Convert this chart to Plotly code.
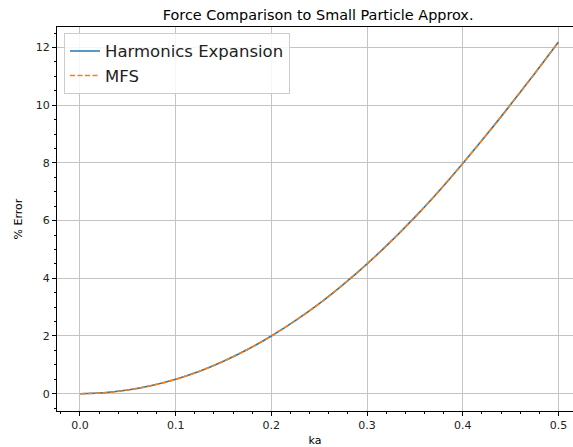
import plotly.graph_objects as go

ka = [0.0, 0.025, 0.05, 0.075, 0.1, 0.125, 0.15, 0.175, 0.2, 0.225, 0.25,
      0.275, 0.3, 0.325, 0.35, 0.375, 0.4, 0.425, 0.45, 0.475, 0.5]
harmonics_err = [0.0, 0.031, 0.125, 0.281, 0.50, 0.78, 1.125, 1.53, 2.00, 2.53, 3.12,
                 3.78, 4.50, 5.28, 6.12, 7.02, 7.98, 8.98, 10.02, 11.09, 12.19]
mfs_err = [0.0, 0.031, 0.125, 0.281, 0.50, 0.78, 1.125, 1.53, 2.00, 2.53, 3.12,
           3.78, 4.50, 5.28, 6.12, 7.02, 7.98, 8.98, 10.02, 11.09, 12.19]

fig = go.Figure()
fig.add_trace(go.Scatter(x=ka, y=harmonics_err, mode="lines", name="Harmonics Expansion",
                         line=dict(color="#1f77b4", width=1.6, shape="spline")))
fig.add_trace(go.Scatter(x=ka, y=mfs_err, mode="lines", name="MFS",
                         line=dict(color="#ff7f0e", width=1.6, dash="5px,2.5px", shape="spline")))

axis_common = dict(
    showgrid=True, gridcolor="#c4c4c4", gridwidth=1,
    showline=True, linecolor="black", linewidth=1,
    ticks="outside", ticklen=4, tickwidth=1, tickcolor="black",
    zeroline=False,
    tickfont=dict(family="DejaVu Sans", size=11, color="#222"),
)

fig.update_layout(
    width=573, height=447,
    margin=dict(l=57, r=0, t=27, b=36),
    paper_bgcolor="white", plot_bgcolor="white",
    title=dict(text="Force Comparison to Small Particle Approx.",
               x=0.506, xref="paper", xanchor="center",
               y=0.9676, yref="container", yanchor="middle",
               font=dict(family="DejaVu Sans", size=14.4, color="black")),
    xaxis=dict(range=[-0.024, 0.5152], tickvals=[0.0, 0.1, 0.2, 0.3, 0.4, 0.5],
               ticktext=["0.0", "0.1", "0.2", "0.3", "0.4", "0.5"], mirror=True,
               minor=dict(dtick=0.02, tick0=0, ticks="outside", ticklen=2, tickcolor="black", showgrid=False),
               title=dict(text="ka", font=dict(family="DejaVu Sans", size=11, color="black"), standoff=6),
               **axis_common),
    yaxis=dict(range=[-0.6, 12.71], tickvals=[0, 2, 4, 6, 8, 10, 12], mirror=False,
               minor=dict(dtick=0.5, tick0=0, ticks="outside", ticklen=2, tickcolor="black", showgrid=False),
               title=dict(text="% Error", font=dict(family="DejaVu Sans", size=11, color="black"), standoff=10),
               **axis_common),
    legend=dict(x=0.0136, y=0.985, xanchor="left", yanchor="top",
                bgcolor="rgba(255,255,255,0.85)", bordercolor="#cccccc", borderwidth=1,
                font=dict(family="DejaVu Sans", size=16.5, color="#222")),
    showlegend=True,
)

fig.write_html("out.html", config={"displayModeBar": False},
               post_script="document.body.style.margin='0';document.body.style.overflow='hidden';")
